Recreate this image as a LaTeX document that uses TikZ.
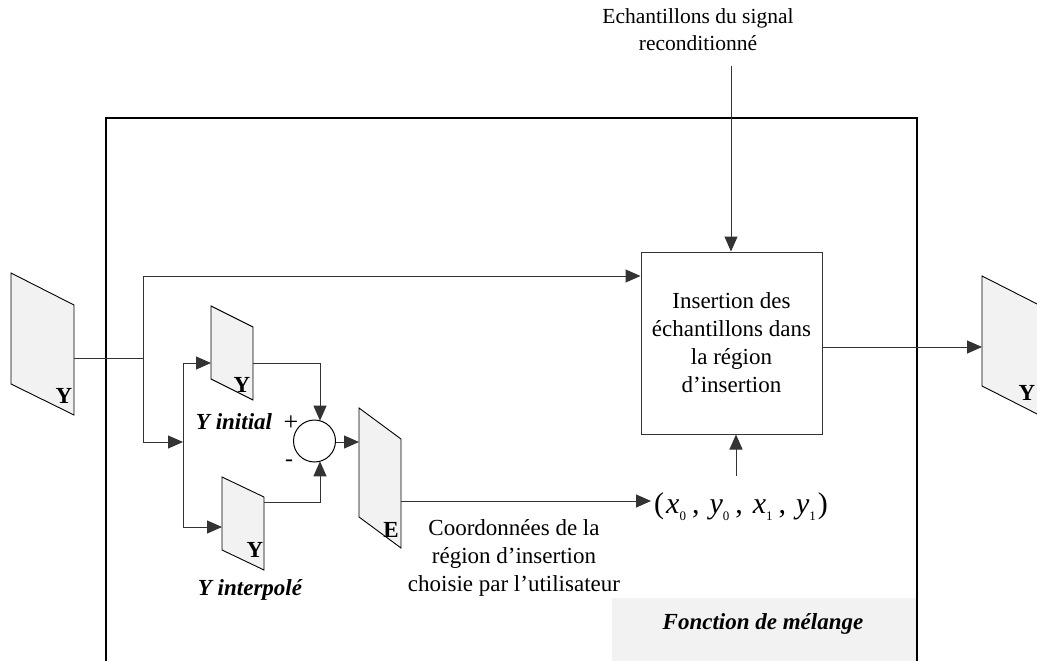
\documentclass[tikz,border=0pt]{standalone}
\usepackage{fontspec}
\setmainfont{Liberation Serif}
\usetikzlibrary{arrows.meta,calc}
\newcommand{\subsc}[1]{\raisebox{-7pt}{\fontsize{13}{13}\selectfont #1}}
\newcommand{\csep}{\hspace{6pt},\hspace{10pt}}
\begin{document}
\begin{tikzpicture}[x=1pt,y=-1pt,
  line/.style={draw=black!80,line width=1pt},
  arr/.style={line,-{Triangle[length=15pt,width=13pt]}},
  frame/.style={draw=black,line width=2pt},
  plane/.style={draw=black,line width=0.9pt,fill=gray!10},
  lbl/.style={font=\fontsize{23}{26}\selectfont\bfseries,inner sep=0pt},
  txt/.style={font=\fontsize{23}{28}\selectfont,align=center,inner sep=0pt},
  ital/.style={font=\fontsize{23}{26}\selectfont\bfseries\itshape,inner sep=0pt},
  box/.style={draw=black!80,line width=1pt,minimum width=181pt,minimum height=182pt,inner sep=0pt}]
\useasboundingbox (0,0) rectangle (1037,661);
% frame
\node[fill=gray!10,minimum width=306pt,minimum height=64pt,inner sep=0pt,anchor=north west] (fbox) at (612,598) {};
\node[ital] (ftxt) at (763,624) {Fonction de mélange};
\draw[frame] (106,661) -- (106,118) -- (917,118) -- (917,661);
% planes
\draw[plane] (11,273) -- (74,305) -- (74,415) -- (11,384) -- cycle;
\coordinate (p1out) at (74,358);
\node[lbl] (p1y) at (64,396) {Y};
\draw[plane] (211,306) -- (253,327) -- (253,400) -- (211,379) -- cycle;
\coordinate (p2in) at (211,363);
\coordinate (p2out) at (253,363);
\node[lbl] (p2y) at (242,385) {Y};
\draw[plane] (222,477) -- (264,497) -- (264,570) -- (222,550) -- cycle;
\coordinate (p3in) at (222,527);
\coordinate (p3out) at (264,502);
\node[lbl] (p3y) at (255,550) {Y};
\draw[plane] (359,408) -- (401,439) -- (401,548) -- (359,517) -- cycle;
\coordinate (ein) at (359,442);
\coordinate (eout) at (401,501);
\node[lbl] (ey) at (391,530) {E};
\draw[plane] (982,276) -- (1047,309) -- (1047,419) -- (982,386) -- cycle;
\coordinate (p4in) at (982,347);
\node[lbl] (p4y) at (1027,393) {Y};
% labels
\node[ital] (yinit) at (234,422) {Y initial};
\node[ital] (yint) at (250,590) {Y interpolé};
\node[font=\fontsize{26}{26}\selectfont,inner sep=0pt] (plus) at (291,423) {+};
\node[font=\fontsize{24}{24}\selectfont,inner sep=0pt] (minus) at (289,463) {-};
% sum
\draw[line,black] (314.5,441) circle (21);
\coordinate (sumr) at (335.5,442);
\coordinate (sumt) at (320,420.7);
\coordinate (sumb) at (320,461.3);
% insertion box
\node[box,txt] (ins) at (731.5,343) {Insertion des\\échantillons dans\\la région\\d'insertion};
\node[txt,font=\fontsize{21.5}{27}\selectfont] (ech) at (698,30) {Echantillons du signal\\reconditionné};
\coordinate (echb) at (731,66);
\node[font=\fontsize{30}{32}\selectfont,inner sep=0pt,anchor=west] (coords) at (654,507)
  {(\hspace{2pt}\textit{x}\subsc{0}\csep\textit{y}\subsc{0}\csep\textit{x}\subsc{1}\csep\textit{y}\subsc{1}\hspace{2pt})};
\coordinate (coordsw) at (651,501);
\coordinate (coordst) at (736,476);
\node[txt] (coordtxt) at (514,558) {Coordonnées de la\\région d'insertion\\choisie par l'utilisateur};
% branch points
\coordinate (j1) at (143,358);
\coordinate (j2) at (143,276);
\coordinate (j3) at (143,442);
\coordinate (j4) at (183,442);
\coordinate (j5) at (183,363);
\coordinate (j6) at (183,527);
% connectors
\draw[line] (p1out) -- (j1);
\draw[arr] (j3) -- (j2) -- (j2 -| ins.west);
\draw[arr] (j1) -- (j3) -- (j4);
\draw[arr] (j5) -- (j6) -- (p3in);
\draw[arr] (j6) -- (j5) -- (p2in);
\draw[arr] (p2out) -| (sumt);
\draw[arr] (p3out) -| (sumb);
\draw[arr] (sumr) -- (ein);
\draw[arr] (eout) -- (coordsw);
\draw[arr] (coordst) -- (coordst |- ins.south);
\draw[arr] (echb) -- (echb |- ins.north);
\draw[arr] (ins.east |- p4in) -- (p4in);
\end{tikzpicture}
\end{document}
